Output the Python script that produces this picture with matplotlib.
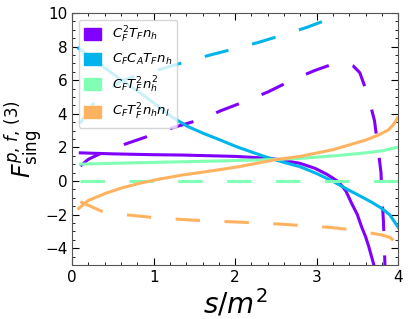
import numpy as np
import matplotlib
matplotlib.use('Agg')
import matplotlib.pyplot as plt
from matplotlib.patches import Patch

# s/m^2 sample points and values (solid = re, dashed = im)
x_ff_re = [0.1, 0.5, 1.0, 1.35, 2.0, 2.43, 2.62, 2.8, 2.98, 3.12, 3.27, 3.36, 3.43, 3.5, 3.55, 3.6, 3.64, 3.72]
y_ff_re = [1.68, 1.62, 1.57, 1.55, 1.47, 1.35, 1.22, 1.05, 0.76, 0.42, -0.04, -0.6, -1.33, -2.0, -2.7, -3.3, -3.9, -5.3]
x_ff_im = [0.1, 0.2, 0.33, 0.65, 0.95, 1.25, 1.6, 1.82, 2.11, 2.4, 2.68, 2.97, 3.15, 3.25, 3.35,
           3.45, 3.53, 3.63, 3.71, 3.75, 3.79, 3.8, 3.82, 3.84]
y_ff_im = [0.9, 1.3, 1.6, 2.2, 2.7, 3.2, 3.7, 4.18, 4.72, 5.3, 5.97, 6.57, 6.88, 7.0, 7.02,
           6.85, 6.45, 5.1, 3.6, 2.1, 0.5, -0.8, -2.4, -5.2]

x_fa_re = [0.08, 0.41, 0.61, 0.82, 1.02, 1.23, 1.41, 1.61, 1.82, 2.02, 2.22, 2.43, 2.61, 2.8,
           3.0, 3.21, 3.38, 3.55, 3.68, 3.8, 3.9, 4.0]
y_fa_re = [7.9, 6.7, 6.0, 5.3, 4.58, 3.8, 3.27, 2.84, 2.44, 2.04, 1.7, 1.35, 1.1, 0.85,
           0.45, -0.04, -0.5, -0.93, -1.27, -1.63, -2.02, -2.75]
x_fa_im = [0.1, 0.26, 0.4, 0.6, 0.8, 1.08, 1.39, 1.69, 1.98, 2.29, 2.58, 2.88, 3.17, 3.4]
y_fa_im = [3.45, 4.6, 5.3, 5.95, 6.3, 6.65, 7.1, 7.5, 7.86, 8.26, 8.69, 9.15, 9.68, 10.1]

x_hh_re = [0.1, 0.7, 1.35, 2.0, 2.51, 2.8, 3.21, 3.6, 3.8, 3.98]
y_hh_re = [1.01, 1.08, 1.15, 1.22, 1.29, 1.35, 1.5, 1.68, 1.8, 2.0]
x_hh_im = [0.1, 4.0]
y_hh_im = [0.0, 0.0]

x_hl_re = [0.08, 0.2, 0.41, 0.6, 0.82, 1.05, 1.35, 1.63, 2.04, 2.51, 2.8, 3.21, 3.6, 3.75, 3.88, 3.95, 3.99]
y_hl_re = [-1.63, -1.15, -0.73, -0.42, -0.14, 0.1, 0.36, 0.55, 0.85, 1.29, 1.47, 1.88, 2.44, 2.72, 3.04, 3.4, 3.75]
x_hl_im = [0.1, 0.36, 0.69, 0.98, 1.33, 1.61, 1.94, 2.22, 2.55, 2.86, 3.17, 3.47, 3.8, 3.9, 4.0]
y_hl_im = [-1.23, -1.79, -2.02, -2.16, -2.28, -2.36, -2.42, -2.48, -2.56, -2.66, -2.76, -2.92,
           -3.21, -3.35, -3.75]

labels = [r'$C_F^2 T_F n_h$', r'$C_F C_A T_F n_h$', r'$C_F T_F^2 n_h^2$', r'$C_F T_F^2 n_h n_l$']
colors = plt.cm.rainbow(np.linspace(0, 0.75, 4))

fig = plt.figure(figsize=(4.1, 3.19), dpi=100)
ax = fig.add_axes([0.176, 0.169, 0.795, 0.79])

curves = [(x_ff_re, y_ff_re, x_ff_im, y_ff_im),
          (x_fa_re, y_fa_re, x_fa_im, y_fa_im),
          (x_hh_re, y_hh_re, x_hh_im, y_hh_im),
          (x_hl_re, y_hl_re, x_hl_im, y_hl_im)]
for (xr, yr, xi, yi), c in zip(curves, colors):
    ax.plot(xr, yr, color=c, lw=2.2)
    ax.plot(xi, yi, color=c, lw=2.2, dashes=(8, 8))

ax.set_xlim(0, 4)
ax.set_ylim(-5, 10)
ax.set_xticks([0, 1, 2, 3, 4])
ax.set_yticks([-4, -2, 0, 2, 4, 6, 8, 10])
ax.minorticks_on()
ax.tick_params(which='both', direction='in', top=True, right=True, labelsize=11)
ax.tick_params(which='major', length=5)
ax.tick_params(which='minor', length=2.5)
for sp in ax.spines.values():
    sp.set_color('#555555')

ax.set_xlabel(r'$s/m^2$', fontsize=20, labelpad=2)
ax.set_ylabel(r'$F^{p,\,f,\,(3)}_{\rm sing}$', fontsize=17, labelpad=0)

handles = [Patch(color=c) for c in colors]
ax.legend(handles, labels, loc='upper left', fontsize=9.5, handlelength=1.3,
          handleheight=1.0, borderpad=0.4, labelspacing=0.55)

fig.savefig('out.png', dpi=100)
